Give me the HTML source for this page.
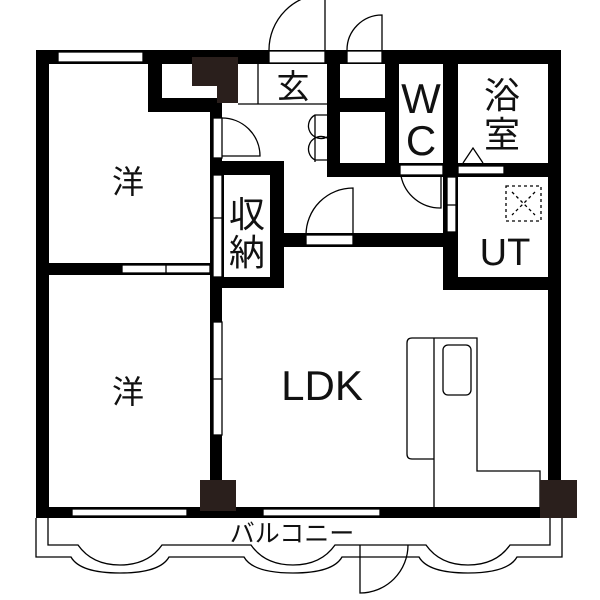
<!DOCTYPE html>
<html><head><meta charset="utf-8"><style>body{margin:0;background:#fff}svg{display:block}text{font-family:"Liberation Sans","Noto Sans CJK JP",sans-serif;fill:#111;text-anchor:middle}</style></head><body>
<svg width="600" height="600" viewBox="0 0 600 600" xmlns="http://www.w3.org/2000/svg">
<g fill="#000">
<rect x="36" y="50" width="525" height="14"/>
<rect x="36" y="50" width="13" height="468"/>
<rect x="548" y="50" width="13" height="468"/>
<rect x="36" y="507" width="525" height="11"/>
<rect x="148" y="50" width="14" height="62"/>
<rect x="148" y="98" width="74" height="14"/>
<rect x="210" y="98" width="12" height="410"/>
<rect x="36" y="263" width="186" height="12"/>
<rect x="327" y="50" width="13" height="127"/>
<rect x="327" y="98" width="60" height="14"/>
<rect x="327" y="163" width="131" height="14"/>
<rect x="385" y="50" width="14" height="127"/>
<rect x="443" y="50" width="15" height="240"/>
<rect x="443" y="163" width="118" height="14"/>
<rect x="443" y="277" width="118" height="13"/>
<rect x="283" y="233" width="175" height="14"/>
<rect x="210" y="161" width="74" height="127"/>
</g>
<g fill="#fff">
<rect x="224" y="175" width="46" height="102"/>
<rect x="162" y="64" width="48" height="34"/>
<rect x="58" y="52" width="85" height="10"/>
<rect x="269" y="51" width="56" height="12"/>
<rect x="347" y="51" width="35" height="12"/>
<rect x="340" y="64" width="45" height="34"/>
<rect x="340" y="112" width="45" height="51"/>
<rect x="399" y="64" width="44" height="99"/>
<rect x="458" y="64" width="90" height="99"/>
<rect x="458" y="177" width="90" height="100"/>
<rect x="400" y="165" width="43" height="10"/>
<rect x="458" y="166" width="46" height="8"/>
<rect x="306" y="235" width="47" height="10"/>
<rect x="213" y="118" width="9" height="40"/>
<rect x="213" y="175" width="9" height="102"/>
<rect x="122" y="265" width="88" height="8"/>
<rect x="213" y="322" width="9" height="113"/>
<rect x="447" y="177" width="9" height="55"/>
<rect x="72" y="509" width="115" height="7"/>
<rect x="263" y="509" width="117" height="7"/>
</g>
<g fill="none" stroke="#000" stroke-width="1.3">
<rect x="58" y="52" width="85" height="10"/>
<rect x="269" y="51" width="56" height="12"/>
<rect x="347" y="51" width="35" height="12"/>
<rect x="400" y="165" width="43" height="10"/>
<rect x="458" y="166" width="46" height="8"/>
<rect x="306" y="235" width="47" height="10"/>
<rect x="213" y="118" width="9" height="40"/>
<rect x="213" y="175" width="9" height="102"/><line x1="213" y1="218" x2="222" y2="218"/>
<rect x="122" y="265" width="88" height="8"/><line x1="166" y1="265" x2="166" y2="273"/>
<rect x="213" y="322" width="9" height="113"/><line x1="213" y1="379" x2="222" y2="379"/>
<rect x="447" y="177" width="9" height="55"/><line x1="447" y1="205" x2="456" y2="205"/>
<rect x="72" y="509" width="115" height="7"/>
<rect x="263" y="509" width="117" height="7"/>
<path d="M269 50 A56 56 0 0 1 325 -6 V50"/>
<path d="M347 50 A35 35 0 0 1 382 15 V50"/>
<path d="M306 235 A47 47 0 0 1 353 188 V235"/>
<path d="M222 118 A38 38 0 0 1 260 156 H222"/>
<path d="M401 176 A40 40 0 0 0 441 208 V176"/>
<path d="M327 115 H315 A12 12 0 0 0 327 137 M327 160 H315 A12 12 0 0 1 327 138"/>
<line x1="315" y1="115" x2="315" y2="162"/>
<line x1="238" y1="104" x2="327" y2="104"/>
<line x1="258" y1="64" x2="258" y2="104"/>
<path d="M463 163 L473 148 L483 163"/>
<rect x="506" y="186" width="35" height="35" stroke-dasharray="3,3"/>
<path d="M512 192 L535 215 M535 192 L512 215" stroke-dasharray="3,3"/>
<path d="M434 338 H412 Q407 338 407 343 V454 Q407 459 412 459 H434"/>
<path d="M434 338 H477 V471 H540 V507 M434 338 V507"/>
<rect x="443" y="345" width="28" height="50" rx="5"/>
<path d="M36 518 V557 H71 Q80 573 120 573 Q160 573 169 557 H244 Q253 573 293 573 Q333 573 342 557 H419 Q428 573 468 573 Q508 573 517 557 H562 V518"/>
<path d="M48 518 V545 H78 Q92 565 120 565 Q148 565 162 545 H251 Q265 565 293 565 Q321 565 335 545 H426 Q440 565 468 565 Q496 565 510 545 H550 V518"/>
<path d="M360 545 V593 A48 48 0 0 0 408 545"/>
</g>
<g fill="#2a1f1c">
<rect x="192" y="57" width="46" height="29"/>
<rect x="217" y="57" width="21" height="46"/>
<rect x="200" y="480" width="36" height="31"/>
<rect x="540" y="480" width="37" height="38"/>
</g>
<text x="128" y="193" font-size="32">洋</text>
<text x="128" y="403" font-size="32">洋</text>
<text x="247" y="227" font-size="36">収</text>
<text x="247" y="265" font-size="36">納</text>
<text x="293" y="98" font-size="33">玄</text>
<text x="421" y="113" font-size="42">W</text>
<text x="421" y="155" font-size="42">C</text>
<text x="502" y="108" font-size="36">浴</text>
<text x="502" y="147" font-size="36">室</text>
<text x="505" y="265" font-size="38">UT</text>
<text x="322" y="400" font-size="42">LDK</text>
<text x="292" y="542" font-size="25">バルコニー</text>
</svg>
</body></html>
